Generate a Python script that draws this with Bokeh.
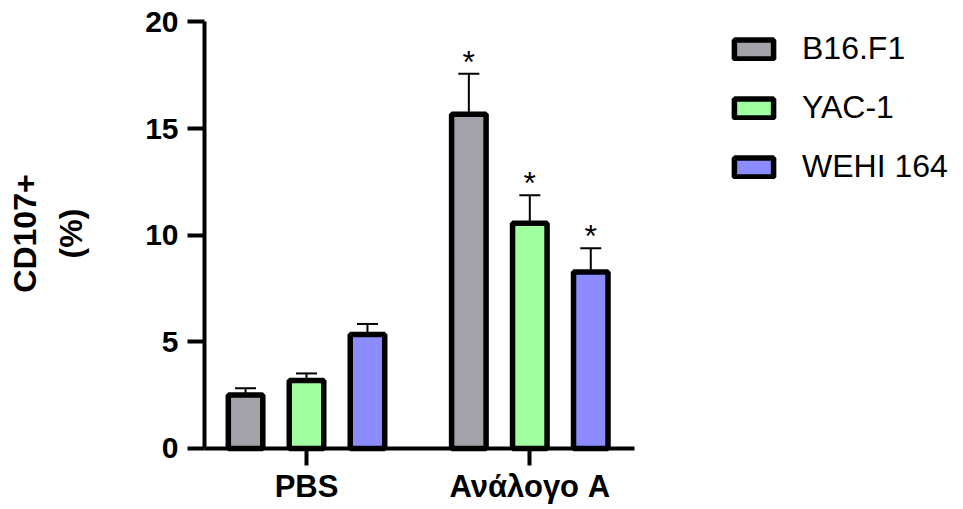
from bokeh.plotting import figure
from bokeh.models import (Range1d, ColumnDataSource, Legend, LegendItem,
                          Whisker, TeeHead, FixedTicker, Label)
from bokeh.transform import dodge
from bokeh.core.properties import value
from bokeh.embed import file_html
from bokeh.resources import INLINE

# ---- data ----
groups = ["PBS", "Ανάλογο A"]
series = ["B16.F1", "YAC-1", "WEHI 164"]
b16 = [2.51, 15.67]
b16_err = [0.32, 1.90]
yac = [3.19, 10.56]
yac_err = [0.33, 1.32]
wehi = [5.35, 8.28]
wehi_err = [0.49, 1.11]
b16_sig = ["", "*"]
yac_sig = ["", "*"]
wehi_sig = ["", "*"]
y_ticks = [0, 5, 10, 15, 20]
y_label_lines = ["CD107+", "(%)"]

colors = ["#a3a2a8", "#a0ffa0", "#8c8cff"]
offsets = [-0.273, 0.0, 0.273]
group_pos = list(range(len(groups)))

FONT = "Liberation Sans"

# whole canvas is the plotting frame; axes are pinned inside it
p = figure(x_range=Range1d(-1.3704, 2.9422),
           y_range=Range1d(-2.8605, 21.008),
           width=963, height=509,
           output_backend="svg", toolbar_location=None,
           min_border_left=0, min_border_right=0,
           min_border_top=0, min_border_bottom=0)

p.outline_line_color = None
p.xgrid.grid_line_color = None
p.ygrid.grid_line_color = None
p.background_fill_color = "white"
p.border_fill_color = "white"

vals = [b16, yac, wehi]
errs = [b16_err, yac_err, wehi_err]
sigs = [b16_sig, yac_sig, wehi_sig]

items = []
for name, v, e, s, c, off in zip(series, vals, errs, sigs, colors, offsets):
    src = ColumnDataSource(dict(pos=group_pos, val=v,
                                upper=[a + b for a, b in zip(v, e)], sig=s))
    xs = dodge("pos", off)
    w = Whisker(base=xs, lower="val", upper="upper", source=src,
                line_color="black", line_width=2,
                lower_head=None,
                upper_head=TeeHead(size=21, line_width=2, line_color="black"))
    p.add_layout(w)
    r = p.vbar(x=xs, top="val", width=0.1545, bottom=0, source=src,
               fill_color=c, line_color="black", line_width=5.5)
    p.text(x=xs, y="upper", text="sig", source=src, text_align="center",
           text_baseline="alphabetic", y_offset=-12,
           text_font=value(FONT), text_font_size="32px", text_color="black")
    items.append(LegendItem(label=name, renderers=[r]))

legend = Legend(items=items, location=(729, 324),
                glyph_width=49, glyph_height=24, label_height=36, spacing=22,
                label_standoff=24, padding=0, margin=0,
                border_line_alpha=0, background_fill_alpha=0,
                label_text_font=FONT, label_text_font_size="32px",
                label_text_color="black")
p.add_layout(legend, "center")

# y axis pinned at the left end of the x-axis line
ya = p.yaxis[0]
ya.fixed_location = -0.4568
ya.ticker = FixedTicker(ticks=y_ticks)
ya.bounds = (0, 20)
ya.minor_tick_line_color = None
ya.major_tick_in = 0
ya.major_tick_out = 17
ya.major_tick_line_width = 4
ya.axis_line_width = 4
ya.major_label_standoff = 9
ya.major_label_text_font = FONT
ya.major_label_text_font_style = "bold"
ya.major_label_text_font_size = "30px"
ya.major_label_text_color = "black"

# y-axis title (two rotated lines)
for txt, sx in zip(y_label_lines, [24, 70]):
    p.add_layout(Label(x=sx, y=276, x_units="screen", y_units="screen",
                       text=txt, angle=90, angle_units="deg",
                       text_align="center", text_baseline="middle",
                       text_font=FONT, text_font_style="bold",
                       text_font_size="32px", text_color="black"))

# x axis pinned at y = 0
xa = p.xaxis[0]
xa.fixed_location = 0
xa.bounds = (-0.4568, 1.469)
xa.ticker = FixedTicker(ticks=group_pos)
xa.major_label_overrides = {i: g for i, g in zip(group_pos, groups)}
xa.minor_tick_line_color = None
xa.major_tick_in = 0
xa.major_tick_out = 17
xa.major_tick_line_width = 4
xa.axis_line_width = 4
xa.major_label_standoff = 4
xa.major_label_text_font = FONT
xa.major_label_text_font_style = "bold"
xa.major_label_text_font_size = "31px"
xa.major_label_text_color = "black"

open("out.html", "w").write(file_html(p, INLINE))
